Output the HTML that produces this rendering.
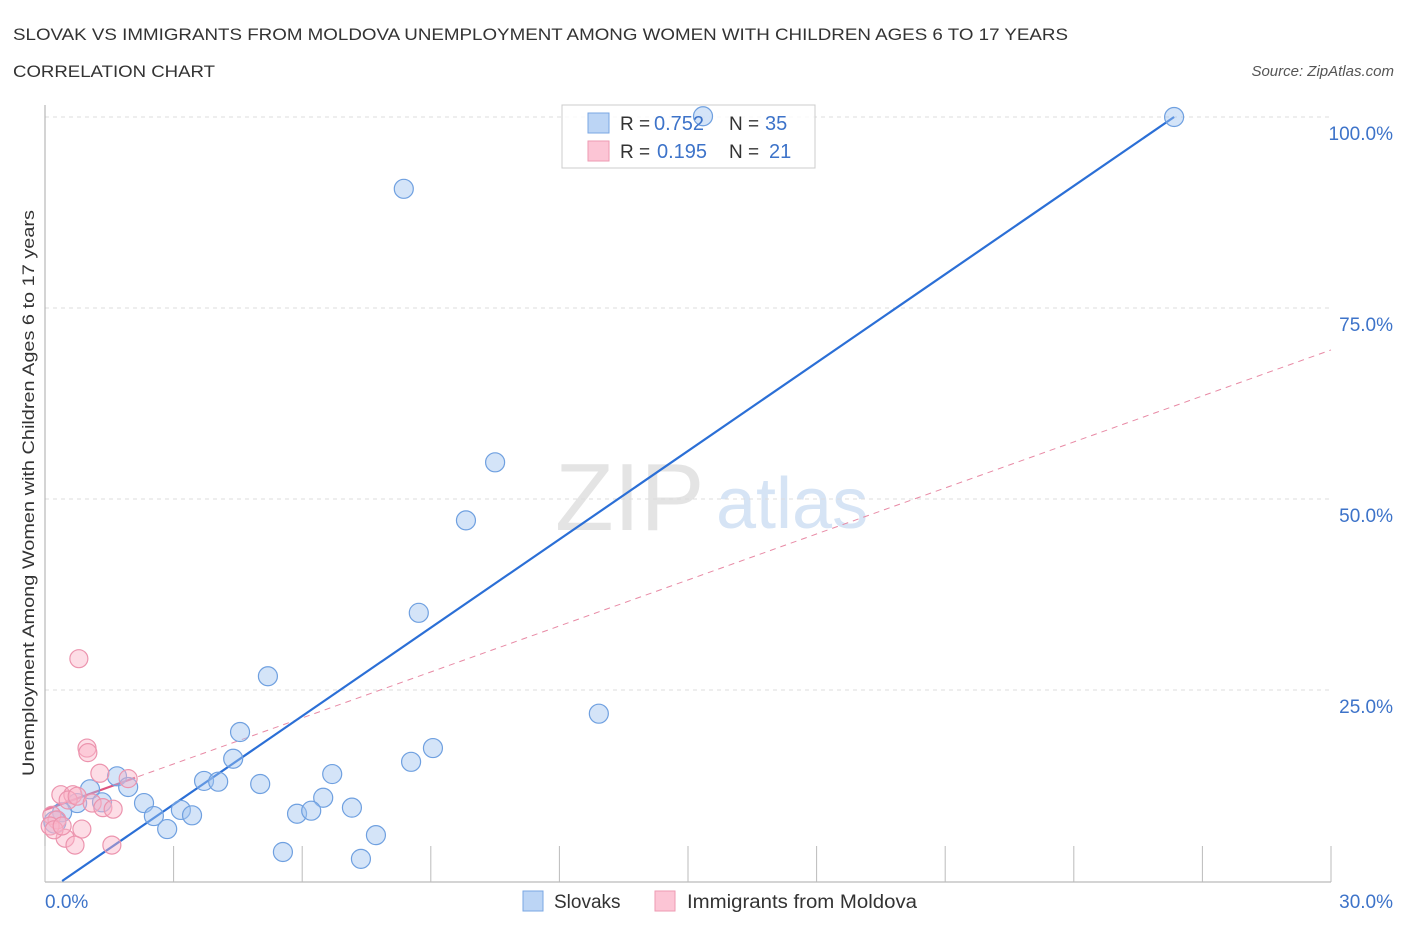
<!DOCTYPE html>
<html><head><meta charset="utf-8"><style>
body{margin:0;background:#fff;font-family:"Liberation Sans",sans-serif;}
svg text{font-family:"Liberation Sans",sans-serif;}
</style></head><body>
<svg id="chart" width="1406" height="930">
<text x="13" y="40" font-size="17" fill="#333" textLength="1055" lengthAdjust="spacingAndGlyphs">SLOVAK VS IMMIGRANTS FROM MOLDOVA UNEMPLOYMENT AMONG WOMEN WITH CHILDREN AGES 6 TO 17 YEARS</text>
<text x="13" y="77" font-size="17" fill="#333" textLength="202" lengthAdjust="spacingAndGlyphs">CORRELATION CHART</text>
<text x="1394" y="76" font-size="15" font-style="italic" fill="#555" text-anchor="end">Source: ZipAtlas.com</text>
<g><text x="555" y="530" font-size="96" font-family="Liberation Serif" fill="#e4e4e4">ZIP</text><text x="716" y="528" font-size="72" fill="#d6e4f5">atlas</text></g>
<g id="grid"></g>
<g id="axes"></g>
<g id="trends"></g>
<g>
<rect x="562" y="105" width="253" height="63" fill="#fff" fill-opacity="0.8" stroke="#ccc"/>
</g>
<g id="points"></g>
<g>
<rect x="588" y="113" width="21" height="20" fill="#bcd5f5" stroke="#7aa7e3"/>
<rect x="588" y="141" width="21" height="20" fill="#fcc5d5" stroke="#ee9ab2"/>
<text x="620" y="130" font-size="19" fill="#333">R =</text>
<text x="654" y="130" font-size="20" fill="#3d73c9">0.752</text>
<text x="729" y="130" font-size="19" fill="#333">N =</text>
<text x="765" y="130" font-size="20" fill="#3d73c9">35</text>
<text x="620" y="158" font-size="19" fill="#333">R =</text>
<text x="657" y="158" font-size="20" fill="#3d73c9">0.195</text>
<text x="729" y="158" font-size="19" fill="#333">N =</text>
<text x="769" y="158" font-size="20" fill="#3d73c9">21</text>
</g>
<text transform="translate(34,493) rotate(-90)" font-size="17" fill="#333" text-anchor="middle" textLength="566" lengthAdjust="spacingAndGlyphs">Unemployment Among Women with Children Ages 6 to 17 years</text>
<g>
<rect x="523" y="891" width="20" height="20" fill="#bcd5f5" stroke="#7aa7e3"/>
<text x="554" y="908" font-size="19" fill="#333">Slovaks</text>
<rect x="655" y="891" width="20" height="20" fill="#fcc5d5" stroke="#ee9ab2"/>
<text x="687" y="908" font-size="19" fill="#333" textLength="230" lengthAdjust="spacingAndGlyphs">Immigrants from Moldova</text>
</g>
</svg>
<script>
const blueX=[26.34,8.37,15.35,10.5,9.82,8.72,5.2,12.92,4.55,9.05,8.54,4.39,3.71,4.04,5.02,6.70,1.68,1.94,1.05,2.31,6.49,7.16,3.17,2.54,3.43,5.88,6.21,2.85,7.72,5.55,7.37,1.33,0.75,0.40,0.23];
const blueY=[100,90.6,100.1,54.8,47.2,35.1,26.8,21.9,19.5,17.4,15.6,16.0,13.1,13.0,12.7,14.0,13.7,12.3,12.0,10.2,10.9,9.6,9.3,8.5,8.6,8.8,9.2,6.8,6.0,3.8,2.9,10.3,10.2,9.0,7.7];
const pinkX=[0.79,0.98,1.0,1.28,1.94,0.37,0.65,0.54,0.75,1.1,1.35,1.59,0.16,0.28,0.12,0.86,0.47,0.7,1.56,0.21,0.4];
const pinkY=[29.1,17.4,16.8,14.1,13.4,11.3,11.3,10.6,11.1,10.2,9.6,9.4,8.6,8.0,7.2,6.8,5.6,4.7,4.7,6.7,7.2];
const blueTrend=[-1.54,3.855];
const pinkTrend=[9.3,2.007];
const yTicks=[25,50,75,100];
const yTickLabels=["25.0%","50.0%","75.0%","100.0%"];
const xTicks=[0,3,6,9,12,15,18,21,24,27,30];
const NS="http://www.w3.org/2000/svg";
const sx=v=>45+v/30*1286, sy=v=>881-v/100*764;
function mk(t,a,p){const e=document.createElementNS(NS,t);for(const k in a)e.setAttribute(k,a[k]);document.getElementById(p).appendChild(e);return e;}
yTicks.forEach((t,i)=>{
 const l=mk('line',{x1:45,x2:1331,y1:sy(t),y2:sy(t),stroke:'#ddd','stroke-dasharray':'4,4'},'grid');
 
 
 const tx=mk('text',{x:1393,y:sy(t)+23,'font-size':19,fill:'#3d73c9','text-anchor':'end'},'axes');
 tx.textContent=yTickLabels[i];
 
 
});
const ax=mk('line',{x1:45,x2:45,y1:105,y2:882,stroke:'#aaa'},'axes');


const bx=mk('line',{x1:45,x2:1331,y1:882,y2:882,stroke:'#aaa'},'axes');


xTicks.forEach(t=>{
 const l=mk('line',{x1:sx(t),x2:sx(t),y1:846,y2:882,stroke:'#bbb'},'axes');
 
 
});
const x0=mk('text',{x:45,y:908,'font-size':19,fill:'#3d73c9'},'axes');x0.textContent='0.0%';


const x1=mk('text',{x:1393,y:908,'font-size':19,fill:'#3d73c9','text-anchor':'end'},'axes');x1.textContent='30.0%';


const pd=mk('line',{x1:sx(0),y1:sy(pinkTrend[0]),x2:sx(30),y2:sy(pinkTrend[0]+30*pinkTrend[1]),stroke:'#e88aa5','stroke-width':1,'stroke-dasharray':'6,5'},'trends');


const xs0=-blueTrend[0]/blueTrend[1], xs1=(100-blueTrend[0])/blueTrend[1];
const bl=mk('line',{x1:sx(xs0),y1:sy(0),x2:sx(xs1),y2:sy(100),stroke:'#2b6fd6','stroke-width':2.2},'trends');


blueX.forEach((x,i)=>{
 const c=mk('circle',{cx:sx(x),cy:sy(blueY[i]),r:i==blueX.length-1?11:9.5,fill:'rgba(160,196,240,0.45)',stroke:'#6fa0e0','stroke-width':1.2},'points');
 
 
});
pinkX.forEach((x,i)=>{
 const c=mk('circle',{cx:sx(x),cy:sy(pinkY[i]),r:9,fill:'rgba(250,180,200,0.45)',stroke:'#ec94ae','stroke-width':1.2},'points');
 
 
});
const ps=mk('line',{x1:sx(0),y1:sy(pinkTrend[0]),x2:sx(2.1),y2:sy(pinkTrend[0]+2.1*pinkTrend[1]),stroke:'#dd5580','stroke-width':2.2},'trends');


</script>
</body></html>
